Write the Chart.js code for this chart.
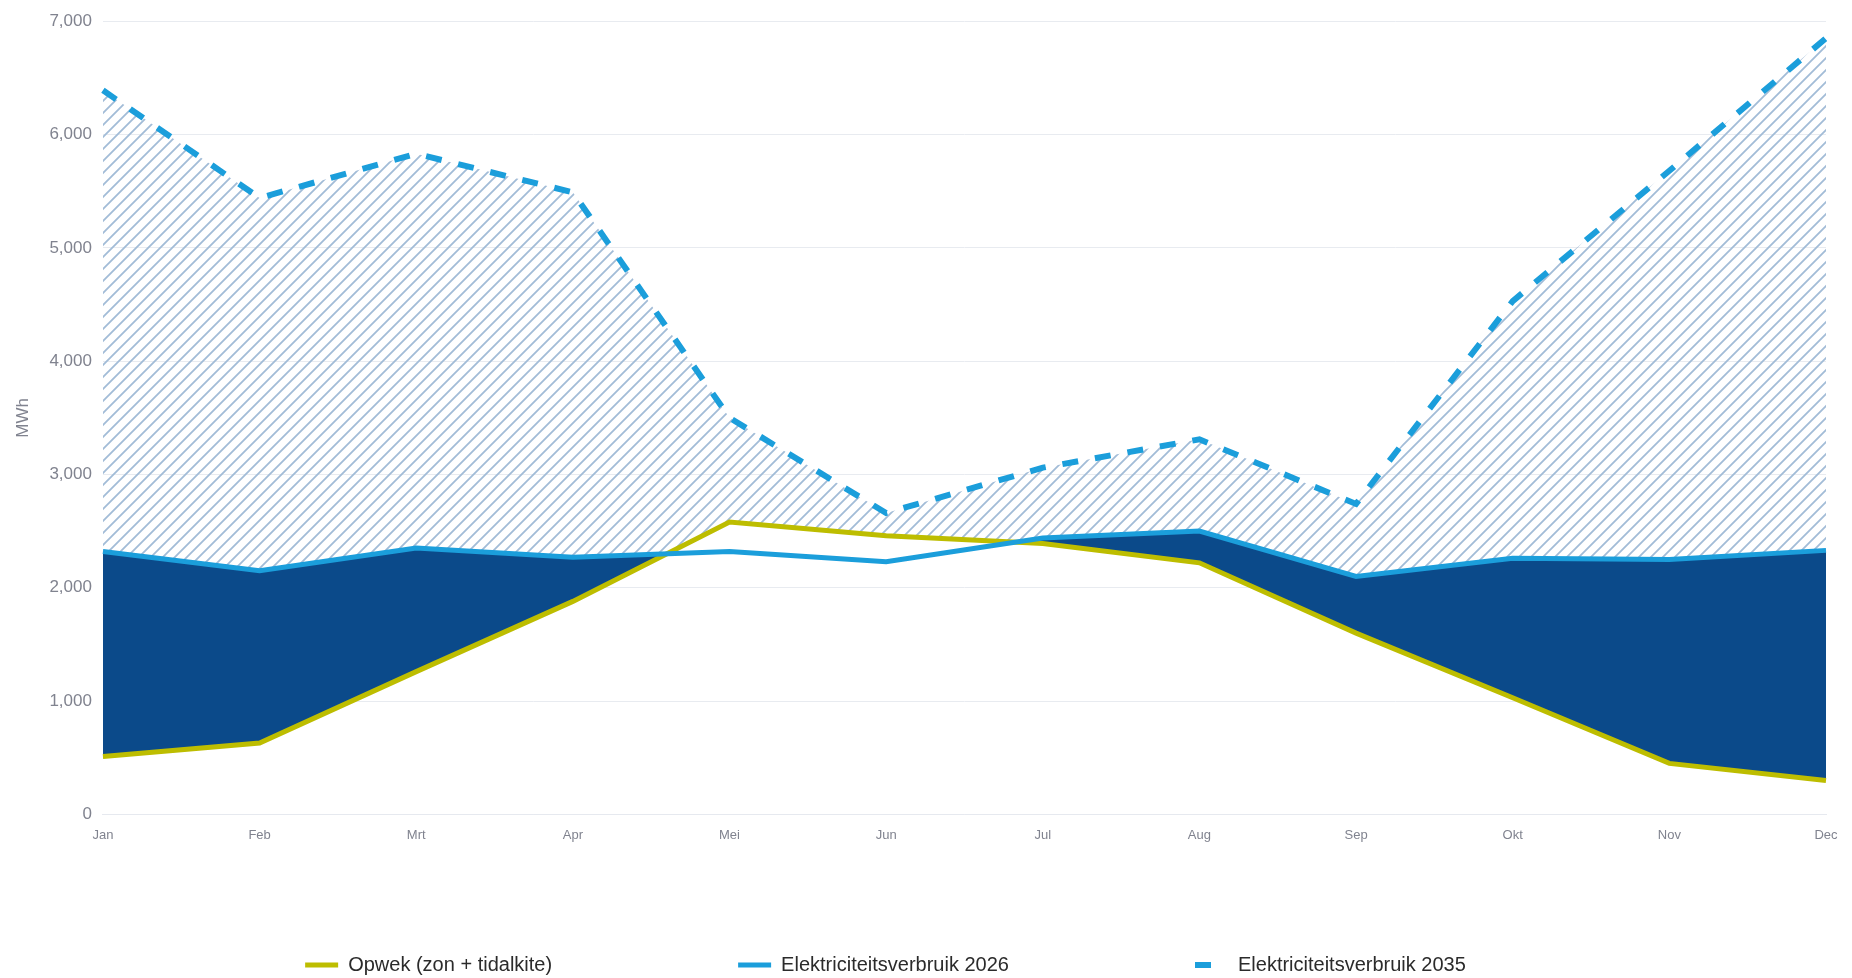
<!DOCTYPE html>
<html>
<head>
<meta charset="utf-8">
<script src="https://cdn.jsdelivr.net/npm/chart.js@4"></script>
<style>
  html, body { margin: 0; padding: 0; background: #fff; }
  #wrap { width: 1852px; height: 978px; }
</style>
</head>
<body>
<div id="wrap"><canvas id="grafiek"></canvas></div>
<script>
const maanden = ['Jan', 'Feb', 'Mrt', 'Apr', 'Mei', 'Jun', 'Jul', 'Aug', 'Sep', 'Okt', 'Nov', 'Dec'];
const opwek = [510, 630, 1260, 1880, 2580, 2460, 2390, 2220, 1600, 1030, 450, 300];
const verbruik2026 = [2320, 2150, 2350, 2270, 2320, 2230, 2440, 2500, 2100, 2260, 2250, 2330];
const verbruik2035 = [6390, 5440, 5830, 5490, 3500, 2660, 3060, 3310, 2740, 4530, 5680, 6850];

const GEEL = '#bdbd00';
const BLAUW = '#1b9edb';
const NAVY = '#0b4a8a';
const GRIJS = '#80838f';

// arcering voor het verschil 2026 -> 2035
function maakArcering() {
  const s = 12;
  const c = document.createElement('canvas');
  c.width = s;
  c.height = s;
  const g = c.getContext('2d');
  g.strokeStyle = '#a2bcd7';
  g.lineWidth = 1.8;
  g.beginPath();
  g.moveTo(0, s); g.lineTo(s, 0);
  g.moveTo(-3, 3); g.lineTo(3, -3);
  g.moveTo(s - 3, s + 3); g.lineTo(s + 3, s - 3);
  g.stroke();
  return g.createPattern(c, 'repeat');
}
const arcering = maakArcering();

// legenda onderaan op eigen hoogte zetten
const LEGENDA_Y = 955;
const legendaPlek = {
  id: 'legendaPlek',
  afterLayout(chart) {
    const lg = chart.legend;
    const p = lg.options.labels.padding;
    lg.top = LEGENDA_Y - p;
    lg.bottom = LEGENDA_Y + 30;
    lg.left -= 34;
    lg.right -= 34;
  }
};

Chart.defaults.font.family = "'Liberation Sans', Arial, sans-serif";

new Chart(document.getElementById('grafiek'), {
  type: 'line',
  data: {
    labels: maanden,
    datasets: [
      {
        label: 'Opwek (zon + tidalkite)',
        data: opwek,
        borderColor: GEEL,
        backgroundColor: GEEL,
        borderWidth: 5,
        fill: { target: 1, above: '#ffffff', below: NAVY },
        order: 1
      },
      {
        label: 'Elektriciteitsverbruik 2026',
        data: verbruik2026,
        borderColor: BLAUW,
        backgroundColor: BLAUW,
        borderWidth: 5,
        fill: false,
        order: 0
      },
      {
        label: 'Elektriciteitsverbruik 2035',
        data: verbruik2035,
        borderColor: BLAUW,
        backgroundColor: BLAUW,
        borderWidth: 6,
        borderDash: [16, 17],
        fill: { target: 1, above: arcering, below: arcering },
        order: 2
      }
    ]
  },
  options: {
    responsive: true,
    maintainAspectRatio: false,
    animation: false,
    elements: { point: { radius: 0 }, line: { tension: 0 } },
    layout: { padding: { top: 15, left: 13, right: 26, bottom: 100 } },
    scales: {
      x: {
        grid: { display: false },
        border: { display: true, color: '#e6e9ef' },
        ticks: { color: GRIJS, font: { size: 13 }, padding: 5, maxRotation: 0, autoSkip: false }
      },
      y: {
        min: 0,
        max: 7000,
        grid: { color: '#e8ebf0', drawTicks: false },
        border: { display: false },
        ticks: {
          stepSize: 1000,
          color: GRIJS,
          font: { size: 17 },
          padding: 11,
          callback: v => v.toLocaleString('en-US')
        },
        title: {
          display: true,
          text: 'MWh',
          color: GRIJS,
          font: { size: 17 },
          padding: { top: 0, bottom: 5 }
        }
      }
    },
    plugins: {
      filler: { drawTime: 'beforeDatasetsDraw' },
      tooltip: { enabled: false },
      legend: {
        position: 'bottom',
        maxHeight: 30,
        labels: {
          usePointStyle: true,
          pointStyle: 'line',
          pointStyleWidth: 33,
          boxHeight: 20,
          padding: 186,
          color: '#2b2b2b',
          font: { size: 20 },
          sort: (a, b) => a.datasetIndex - b.datasetIndex,
          generateLabels: chart => {
            const items = Chart.defaults.plugins.legend.labels.generateLabels(chart);
            items.forEach(it => {
              it.lineDash = chart.data.datasets[it.datasetIndex].borderDash || [];
            });
            return items;
          }
        }
      }
    }
  },
  plugins: [legendaPlek]
});
</script>
</body>
</html>
